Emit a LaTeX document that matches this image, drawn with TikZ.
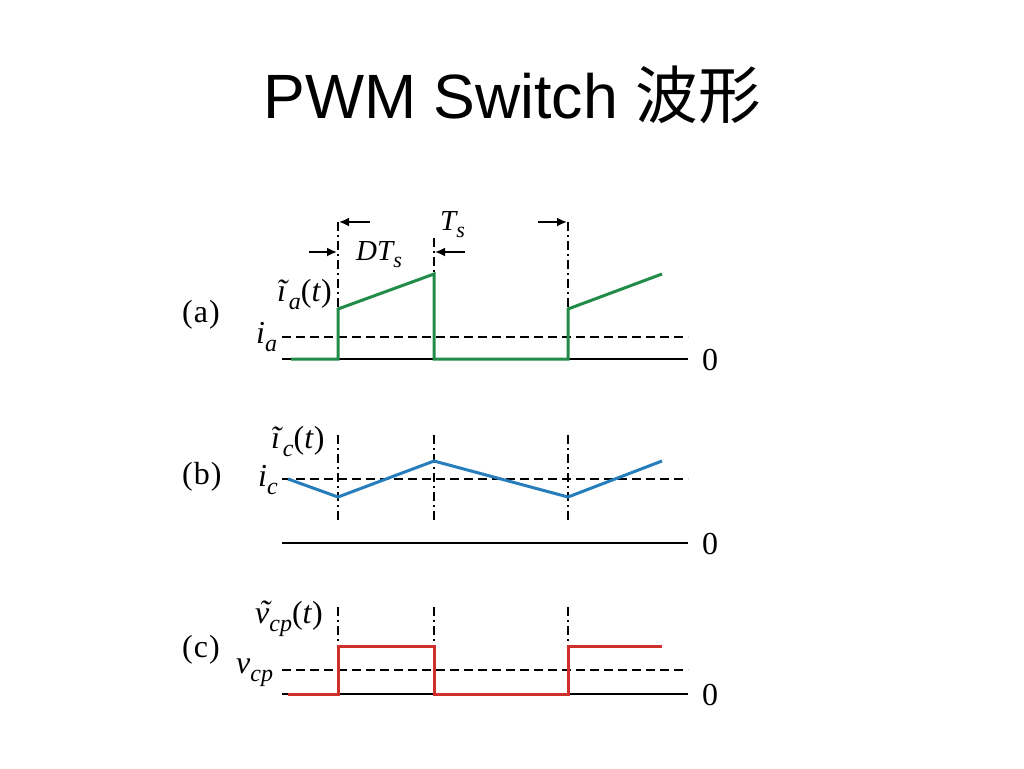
\documentclass[tikz,border=0pt]{standalone}
\usepackage{fontspec}
\setmainfont{Liberation Serif}
\newfontfamily\titlefont{Liberation Sans}
\newfontfamily\cjk{Noto Sans CJK TC}
\usetikzlibrary{arrows.meta}
\definecolor{wgreen}{RGB}{32,140,72}
\definecolor{wblue}{RGB}{38,125,188}
\definecolor{wred}{RGB}{208,48,44}
\newcommand\sbx[1]{\raisebox{-0.27em}{\fontsize{24}{24}\selectfont\itshape #1}}
\newcommand\sbs[1]{\raisebox{-0.27em}{\fontsize{22}{22}\selectfont\itshape #1}}
\newcommand\tv{\makebox[0pt][l]{\hspace{0.12em}\raisebox{0.03em}{\char"02DC}}v}
\tikzset{
  lab/.style={anchor=base west, inner sep=0pt, font=\fontsize{32}{36}\selectfont},
  plab/.style={anchor=base west, inner sep=0pt, font=\fontsize{32}{36}\selectfont},
  dimlab/.style={anchor=base west, inner sep=0pt, font=\fontsize{29}{32}\selectfont\itshape},
  axisline/.style={line width=2.2pt, black},
  meanline/.style={line width=1.8pt, black, dash pattern=on 9pt off 5pt},
  guide/.style={line width=1.6pt, black, dash pattern=on 9pt off 4pt on 2pt off 4pt},
  dimarrow/.style={line width=1.8pt, -{Latex[length=10pt,width=9pt]}},
  wave/.style={line width=3pt, line join=miter}
}
\begin{document}
\begin{tikzpicture}[x=1pt,y=-1pt]
\useasboundingbox (0,0) rectangle (1024,768);
\fill[white] (0,0) rectangle (1024,768);
% title
\node[anchor=base, inner sep=0pt, font=\titlefont\fontsize{62.6}{70}\selectfont] (title) at (512,118) {PWM Switch {\cjk 波形}};

% ---------- (a) ----------
\coordinate (aL) at (282,359); \coordinate (aR) at (688,359);
\coordinate (amL) at (282,337); \coordinate (amR) at (688,337);
\draw[axisline] (aL) -- (aR);
\draw[meanline] (amL) -- (amR);
\coordinate (g0) at (291,359); \coordinate (g1) at (338,359); \coordinate (g2) at (338,309);
\coordinate (g3) at (434,274); \coordinate (g4) at (434,359); \coordinate (g5) at (568,359);
\coordinate (g6) at (568,309); \coordinate (g7) at (662,274);
\coordinate (ga1) at (338,222); \coordinate (ga2) at (434,238); \coordinate (ga3) at (568,222);
\draw[guide] (ga1) -- (g2);
\draw[guide] (ga2) -- (g3);
\draw[guide] (ga3) -- (g6);
\draw[wave, wgreen] (g0) -- (g1) -- (g2) -- (g3) -- (g4) -- (g5) -- (g6) -- (g7);
% dimension arrows
\coordinate (d1s) at (370,222); \coordinate (d1e) at (339,222);
\coordinate (d2s) at (538,222); \coordinate (d2e) at (567,222);
\coordinate (d3s) at (309,252); \coordinate (d3e) at (337,252);
\coordinate (d4s) at (465,252); \coordinate (d4e) at (435,252);
\draw[dimarrow] (d1s) -- (d1e);
\draw[dimarrow] (d2s) -- (d2e);
\draw[dimarrow] (d3s) -- (d3e);
\draw[dimarrow] (d4s) -- (d4e);
\node[dimlab] (Ts) at (440,230) {T\sbs{s}};
\node[dimlab] (DTs) at (356,260) {DT\sbs{s}};
\node[plab] (pa) at (182,322) {(\kern1pt a\kern1pt)};
\node[lab] (iat) at (277,301) {\textit{ĩ}\sbx{a}(\textit{t})};
\node[lab] (ia) at (256,343) {\textit{i}\sbx{a}};
\node[lab] (za) at (702,370) {0};

% ---------- (b) ----------
\coordinate (bL) at (282,543); \coordinate (bR) at (688,543);
\coordinate (bmL) at (282,479); \coordinate (bmR) at (688,479);
\draw[axisline] (bL) -- (bR);
\draw[meanline] (bmL) -- (bmR);
\foreach \x/\n in {338/1,434/2,568/3}{
  \coordinate (gbt\n) at (\x,435); \coordinate (gbb\n) at (\x,523);
  \draw[guide] (gbt\n) -- (gbb\n);
}
\coordinate (b0) at (288,479); \coordinate (b1) at (338,497); \coordinate (b2) at (434,461);
\coordinate (b3) at (568,497); \coordinate (b4) at (662,461);
\draw[wave, wblue] (b0) -- (b1) -- (b2) -- (b3) -- (b4);
\node[plab] (pb) at (182,484) {(\kern1pt b\kern1pt)};
\node[lab] (ict) at (271,448) {\textit{ĩ}\sbx{c}(\textit{t})};
\node[lab] (ic) at (258,486) {\textit{i}\sbx{c}};
\node[lab] (zb) at (702,554) {0};

% ---------- (c) ----------
\coordinate (cL) at (282,694); \coordinate (cR) at (688,694);
\coordinate (cmL) at (282,670); \coordinate (cmR) at (688,670);
\draw[axisline] (cL) -- (cR);
\draw[meanline] (cmL) -- (cmR);
\coordinate (r0) at (288,694); \coordinate (r1) at (338,694); \coordinate (r2) at (338,646);
\coordinate (r3) at (434,646); \coordinate (r4) at (434,694); \coordinate (r5) at (568,694);
\coordinate (r6) at (568,646); \coordinate (r7) at (662,646);
\foreach \x/\n in {338/1,434/2,568/3}{
  \coordinate (gct\n) at (\x,607); \coordinate (gcb\n) at (\x,646);
  \draw[guide] (gct\n) -- (gcb\n);
}
\draw[wave, wred] (r0) -- (r1) -- (r2) -- (r3) -- (r4) -- (r5) -- (r6) -- (r7);
\node[plab] (pc) at (182,657) {(\kern1pt c\kern1pt)};
\node[lab] (vct) at (255,623) {\textit{\tv}\sbx{cp}(\textit{t})};
\node[lab] (vc) at (236,673) {\textit{v}\sbx{cp}};
\node[lab] (zc) at (702,705) {0};
\end{tikzpicture}
\end{document}
